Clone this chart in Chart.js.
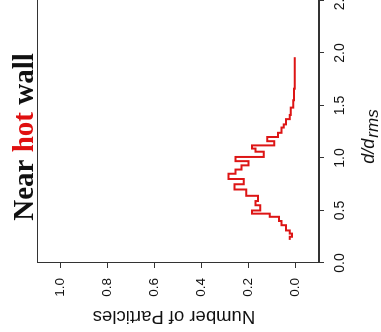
<!DOCTYPE html>
<html>
<head>
<meta charset="utf-8">
<script src="https://cdn.jsdelivr.net/npm/chart.js@4"></script>
<style>
  html, body { margin: 0; padding: 0; background: #fff; overflow: hidden; }
  #page { position: relative; width: 381px; height: 332px; overflow: hidden; }
  /* the plot is drawn upright, then turned a quarter turn to the left like the scan */
  #turn {
    position: absolute; left: 0; top: 0;
    width: 332px; height: 381px; overflow: hidden;
    transform-origin: 0 0;
    transform: translate(0, 332px) rotate(-90deg);
  }
</style>
</head>
<body>
<div id="page">
  <div id="turn">
    <canvas id="histChart" width="360" height="381"></canvas>
  </div>
</div>
<script>
// bin edges (d/d_rms) and the value held over each bin
const binEdges = [0.22, 0.25, 0.28, 0.31, 0.36, 0.40, 0.44, 0.47, 0.50, 0.55,
                  0.59, 0.64, 0.70, 0.75, 0.80, 0.85, 0.89, 0.93, 0.97, 1.01,
                  1.06, 1.09, 1.12, 1.16, 1.20, 1.24, 1.29, 1.32, 1.37, 1.41,
                  1.48, 1.55, 1.66, 1.96];
const binCounts = [0.025, 0.015, 0.025, 0.04, 0.06, 0.07, 0.11, 0.185, 0.15, 0.17,
                   0.16, 0.21, 0.26, 0.22, 0.285, 0.255, 0.23, 0.20, 0.255, 0.135,
                   0.17, 0.185, 0.09, 0.12, 0.075, 0.06, 0.05, 0.04, 0.025, 0.02,
                   0.01, 0.006, 0.003];
const xTicks = [0, 0.5, 1.0, 1.5, 2.0, 2.5];
const yTicks = [0, 0.2, 0.4, 0.6, 0.8, 1.0];
const titleParts = [['Near ', '#111'], ['hot', '#e01010'], [' wall', '#111']];
const yTitle = 'Number of Particles';
const xTitle = 'd/d';
const xTitleSub = 'rms';

const points = binEdges.map((e, i) => ({ x: e, y: binCounts[Math.min(i, binCounts.length - 1)] }));

const decorations = {
    id: 'decorations',
    afterDraw(chart) {
        const { ctx, chartArea: a } = chart;
        ctx.save();
        // plot frame
        ctx.strokeStyle = '#333';
        ctx.lineWidth = 1;
        ctx.strokeRect(Math.round(a.left) + 0.5, Math.round(a.top) + 0.5,
                       Math.round(a.right - a.left), Math.round(a.bottom - a.top) - 1);

        // main title, one word in red
        ctx.font = 'bold 29px "Liberation Serif"';
        ctx.textBaseline = 'alphabetic';
        ctx.textAlign = 'left';
        const widths = titleParts.map(p => ctx.measureText(p[0]).width);
        let x = 195 - widths.reduce((s, w) => s + w, 0) / 2;
        titleParts.forEach((p, i) => {
            ctx.fillStyle = p[1];
            ctx.fillText(p[0], x, 33);
            x += widths[i];
        });

        // x axis title with subscript
        ctx.fillStyle = '#111';
        ctx.font = 'italic 18px "Liberation Sans"';
        const w1 = ctx.measureText(xTitle).width;
        ctx.font = 'italic 17px "Liberation Sans"';
        const w2 = ctx.measureText(xTitleSub).width;
        let sx = 195 - (w1 + w2) / 2;
        ctx.font = 'italic 18px "Liberation Sans"';
        ctx.fillText(xTitle, sx, 374);
        ctx.font = 'italic 17px "Liberation Sans"';
        ctx.fillText(xTitleSub, sx + w1 + 1, 378);

        // y axis title
        ctx.translate(16, 174);
        ctx.rotate(-Math.PI / 2);
        ctx.font = '18.5px "Liberation Sans"';
        ctx.textAlign = 'center';
        ctx.textBaseline = 'middle';
        ctx.fillText(yTitle, 0, 0);
        ctx.restore();
    }
};

const ctx = document.getElementById('histChart').getContext('2d');
new Chart(ctx, {
    type: 'line',
    data: {
        datasets: [{
            data: points,
            stepped: true,
            borderColor: '#dd1515',
            borderWidth: 2,
            pointRadius: 0,
            fill: false
        }]
    },
    options: {
        responsive: false,
        animation: false,
        devicePixelRatio: 1,
        layout: { padding: { top: 37, right: 28.5, bottom: 0, left: 0 } },
        plugins: { legend: { display: false }, tooltip: { enabled: false } },
        scales: {
            x: {
                type: 'linear',
                min: 0,
                max: 2.5,
                afterBuildTicks: s => { s.ticks = xTicks.map(v => ({ value: v })); },
                afterFit: s => { s.height = 62; },
                ticks: {
                    autoSkip: false,
                    maxRotation: 0,
                    padding: 8,
                    color: '#111',
                    font: { family: 'Liberation Sans', size: 14 },
                    callback: v => v.toFixed(1)
                },
                grid: { drawOnChartArea: false, tickLength: 5, color: '#333' },
                border: { color: '#333' }
            },
            y: {
                min: -0.1,
                max: 1.1,
                afterBuildTicks: s => { s.ticks = yTicks.map(v => ({ value: v })); },
                afterFit: s => { s.width = 69; },
                ticks: {
                    autoSkip: false,
                    padding: 10,
                    color: '#111',
                    font: { family: 'Liberation Sans', size: 13.5 },
                    callback: v => v.toFixed(1)
                },
                grid: { drawOnChartArea: false, tickLength: 5, color: '#333' },
                border: { color: '#333' }
            }
        }
    },
    plugins: [decorations]
});
</script>
</body>
</html>
